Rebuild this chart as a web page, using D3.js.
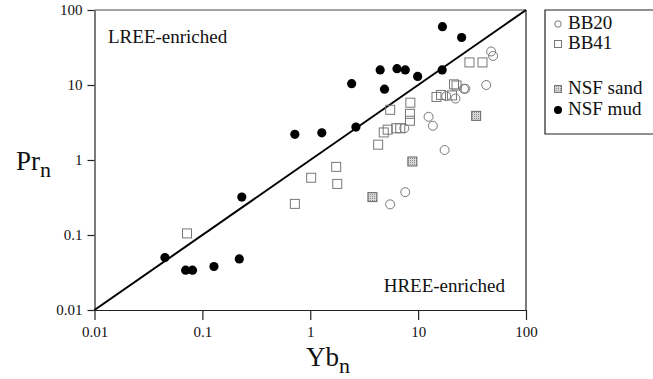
<!DOCTYPE html>
<html>
<head>
<meta charset="utf-8">
<script src="https://cdn.jsdelivr.net/npm/d3@7"></script>
<style>
  body { margin: 0; background: #fff; }
  svg text { font-family: "Liberation Serif", "Times New Roman", serif; }
</style>
</head>
<body>
<svg id="chart" width="653" height="379"></svg>
<script>
// values (Yb_n, Pr_n)
const bb20Yb = [5.5, 7.6, 17.6, 7.45, 12.5, 13.7, 18.2, 22.2, 26.6, 27.4, 42.8, 47.5, 49.6];
const bb20Pr = [0.256, 0.373, 1.36, 2.65, 3.77, 2.86, 7.1, 6.6, 8.9, 8.9, 10.0, 28, 24.4];

const bb41Yb = [0.072, 0.72, 1.02, 1.74, 1.78, 4.26, 4.8, 5.22, 6.27, 6.83, 5.51, 8.47, 8.4, 8.4, 14.8, 16.3, 20.6, 21.5, 22.7, 29.9, 39.5];
const bb41Pr = [0.105, 0.26, 0.58, 0.81, 0.48, 1.6, 2.33, 2.54, 2.65, 2.65, 4.67, 5.81, 4.13, 3.34, 6.93, 7.37, 7.26, 10.2, 9.85, 20.0, 20.0];

const sandYb = [3.77, 8.84, 34.5];
const sandPr = [0.32, 0.955, 3.88];

const mudYb = [0.045, 0.070, 0.081, 0.128, 0.22, 0.232, 0.72, 1.28, 2.65, 2.42, 4.45, 4.88, 6.37, 7.6, 9.9, 16.7, 16.8, 25.3];
const mudPr = [0.05, 0.034, 0.034, 0.038, 0.048, 0.32, 2.2, 2.3, 2.75, 10.4, 15.9, 8.8, 16.5, 15.9, 13.0, 15.9, 60, 43];

const tickValues = [0.01, 0.1, 1, 10, 100];
const tickLabels = ["0.01", "0.1", "1", "10", "100"];
const legendNames = ["BB20", "BB41", "NSF sand", "NSF mud"];

const svg = d3.select("#chart");
const plotL = 94.5, plotR = 526, plotT = 10, plotB = 310;

const x = d3.scaleLog().domain([0.01, 100]).range([plotL, plotR]);
const y = d3.scaleLog().domain([0.01, 100]).range([plotB, plotT]);

const zip = (xs, ys) => xs.map((v, i) => [v, ys[i]]);

// pattern for the sand squares
const defs = svg.append("defs");
const pat = defs.append("pattern")
    .attr("id", "sand")
    .attr("width", 2).attr("height", 2)
    .attr("patternUnits", "userSpaceOnUse");
pat.append("rect").attr("width", 2).attr("height", 2).attr("fill", "#d8d8d8");
pat.append("rect").attr("width", 1).attr("height", 1).attr("fill", "#8a8a8a");

// frame
svg.append("line")
    .attr("x1", plotL).attr("x2", plotR).attr("y1", plotT).attr("y2", plotT)
    .attr("stroke", "#444").attr("stroke-width", 1);
svg.append("line")
    .attr("x1", plotR).attr("x2", plotR).attr("y1", plotT).attr("y2", plotB)
    .attr("stroke", "#222").attr("stroke-width", 1.2);

const fmt = (d) => tickLabels[tickValues.indexOf(d)];

const xAxis = svg.append("g")
    .attr("transform", `translate(0,${plotB})`)
    .call(d3.axisBottom(x).tickValues(tickValues).tickFormat(fmt).tickSize(10).tickSizeOuter(0));
xAxis.selectAll("text").attr("dy", null).attr("y", 27);

const yAxis = svg.append("g")
    .attr("transform", `translate(${plotL},0)`)
    .call(d3.axisLeft(y).tickValues(tickValues).tickFormat(fmt).tickSize(7).tickSizeOuter(0));
yAxis.selectAll("text").attr("x", -12);

[xAxis, yAxis].forEach((g) => {
  g.attr("font-family", null).attr("font-size", null);
  g.select(".domain").attr("stroke", "#222").attr("stroke-width", 1.2);
  g.selectAll(".tick line").attr("stroke", "#222").attr("stroke-width", 1.2);
  g.selectAll("text").attr("fill", "#111").style("font-size", "15px");
});

// 1:1 line
svg.append("line")
    .attr("x1", x(0.01)).attr("y1", y(0.01))
    .attr("x2", x(100)).attr("y2", y(100))
    .attr("stroke", "#000").attr("stroke-width", 2);

// points
const sq = 9;
svg.append("g").selectAll("rect")
    .data(zip(bb41Yb, bb41Pr))
    .enter().append("rect")
      .attr("x", (d) => x(d[0]) - sq / 2)
      .attr("y", (d) => y(d[1]) - sq / 2)
      .attr("width", sq).attr("height", sq)
      .attr("fill", "none").attr("stroke", "#777").attr("stroke-width", 1);

svg.append("g").selectAll("circle")
    .data(zip(bb20Yb, bb20Pr))
    .enter().append("circle")
      .attr("cx", (d) => x(d[0]))
      .attr("cy", (d) => y(d[1]))
      .attr("r", 4.5)
      .attr("fill", "none").attr("stroke", "#777").attr("stroke-width", 1);

svg.append("g").selectAll("rect")
    .data(zip(sandYb, sandPr))
    .enter().append("rect")
      .attr("x", (d) => x(d[0]) - sq / 2)
      .attr("y", (d) => y(d[1]) - sq / 2)
      .attr("width", sq).attr("height", sq)
      .attr("fill", "url(#sand)").attr("stroke", "#666").attr("stroke-width", 1);

svg.append("g").selectAll("circle")
    .data(zip(mudYb, mudPr))
    .enter().append("circle")
      .attr("cx", (d) => x(d[0]))
      .attr("cy", (d) => y(d[1]))
      .attr("r", 4.6)
      .attr("fill", "#000");

// annotations
svg.append("text").attr("x", 108).attr("y", 43)
    .attr("font-size", 19).attr("fill", "#111").text("LREE-enriched");
svg.append("text").attr("x", 505).attr("y", 292)
    .attr("text-anchor", "end")
    .attr("font-size", 19).attr("fill", "#111").text("HREE-enriched");

// axis titles
const xt = svg.append("text").attr("x", 306).attr("y", 366)
    .attr("font-size", 27).attr("fill", "#111");
xt.append("tspan").text("Yb");
xt.append("tspan").attr("dy", 7).attr("font-size", 22).text("n");

const yt = svg.append("text").attr("x", 16).attr("y", 170)
    .attr("font-size", 27).attr("fill", "#111");
yt.append("tspan").text("Pr");
yt.append("tspan").attr("dy", 7).attr("font-size", 22).text("n");

// legend
const lg = svg.append("g");
lg.append("path")
    .attr("d", "M660,10H545V134H660")
    .attr("fill", "none").attr("stroke", "#222").attr("stroke-width", 1.2);
const legY = [24, 44, 89, 110];
legendNames.forEach((name, i) => {
  const cy = legY[i];
  if (i === 0) {
    lg.append("circle").attr("cx", 558).attr("cy", cy).attr("r", 3.2)
      .attr("fill", "none").attr("stroke", "#777");
  } else if (i === 1) {
    lg.append("rect").attr("x", 554.5).attr("y", cy - 3.5).attr("width", 7).attr("height", 7)
      .attr("fill", "none").attr("stroke", "#777");
  } else if (i === 2) {
    lg.append("rect").attr("x", 554.5).attr("y", cy - 3.5).attr("width", 7).attr("height", 7)
      .attr("fill", "url(#sand)").attr("stroke", "#777");
  } else {
    lg.append("circle").attr("cx", 558).attr("cy", cy).attr("r", 4)
      .attr("fill", "#000");
  }
  lg.append("text").attr("x", 568).attr("y", cy + 5)
    .attr("font-size", 19).attr("fill", "#111").text(name);
});
</script>
</body>
</html>
